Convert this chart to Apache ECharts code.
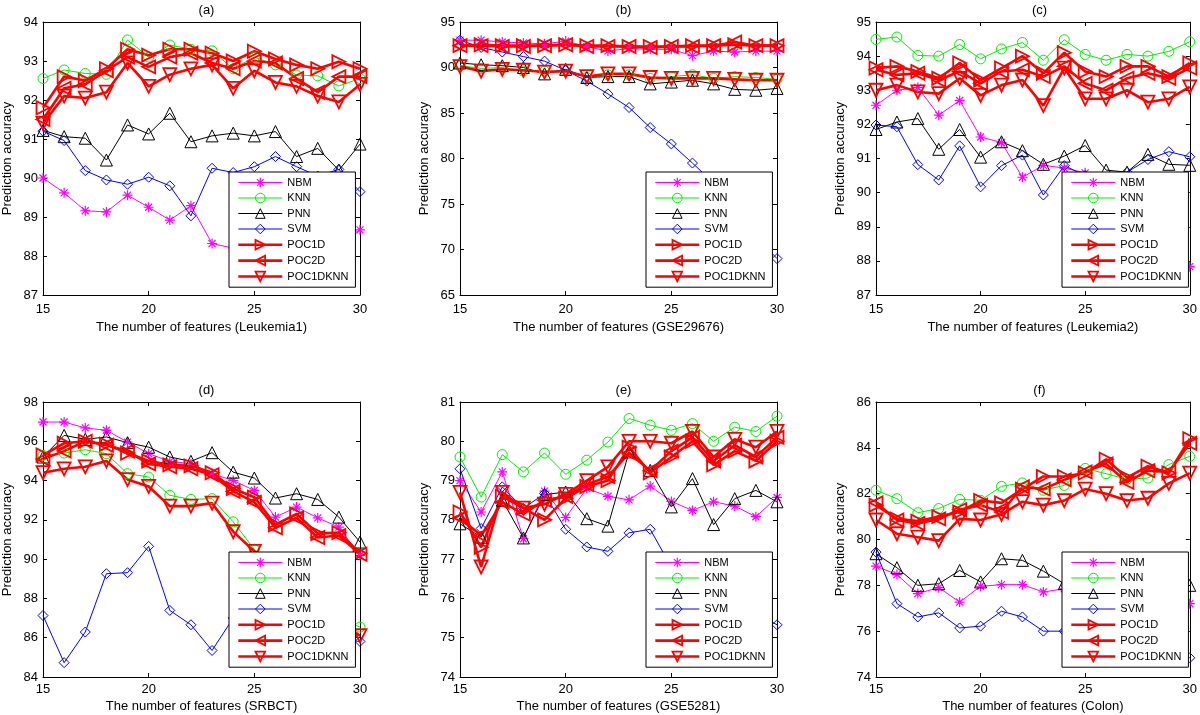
<!DOCTYPE html>
<html>
<head>
    <meta charset="utf-8">
    <title>Prediction accuracy</title>
    <script src="https://cdn.jsdelivr.net/npm/echarts@6/dist/echarts.min.js"></script>
</head>
<body style="margin:0">
    <div id="main" style="width: 1200px;height:715px;"></div>
    <script type="text/javascript">
        // number of features (x axis of every panel)
        var features = [15, 16, 17, 18, 19, 20, 21, 22, 23, 24, 25, 26, 27, 28, 29, 30];
        var methods = ['NBM', 'KNN', 'PNN', 'SVM', 'POC1D', 'POC2D', 'POC1DKNN'];

        // (a) Leukemia1
        var a_NBM = [90.0, 89.62, 89.16, 89.13, 89.56, 89.25, 88.92, 89.29, 88.32, 88.2, 88.05, 88.1, 88.25, 88.3, 88.35, 88.67];
        var a_KNN = [92.55, 92.77, 92.68, 92.66, 93.54, 93.1, 93.41, 93.3, 93.26, 92.8, 93.1, 92.9, 92.64, 92.62, 92.36, 92.55];
        var a_PNN = [91.22, 91.06, 91.02, 90.46, 91.36, 91.13, 91.66, 90.93, 91.08, 91.15, 91.08, 91.19, 90.55, 90.76, 90.2, 90.87];
        var a_SVM = [91.2, 90.96, 90.19, 89.95, 89.84, 90.02, 89.8, 89.03, 90.25, 90.14, 90.29, 90.55, 90.29, 90.05, 90.22, 89.65];
        var a_POC1D = [91.8, 92.6, 92.5, 92.8, 93.3, 93.15, 93.3, 93.3, 93.2, 93.0, 93.25, 93.05, 92.9, 92.8, 92.98, 92.8];
        var a_POC2D = [91.5, 92.3, 92.4, 92.75, 93.1, 92.85, 93.1, 93.2, 92.95, 92.8, 93.0, 92.95, 92.55, 92.2, 92.6, 92.6];
        var a_POC1DKNN = [91.4, 92.1, 92.05, 92.2, 92.95, 92.35, 92.65, 92.8, 92.9, 92.3, 92.75, 92.45, 92.35, 92.1, 91.95, 92.4];

        // (b) GSE29676
        var b_NBM = [93.0, 93.0, 92.8, 92.7, 92.6, 92.9, 92.3, 91.8, 92.1, 92.0, 92.0, 91.3, 91.8, 91.7, 91.8, 91.8];
        var b_KNN = [90.2, 89.9, 90.0, 89.6, 89.6, 89.6, 88.9, 89.2, 89.2, 88.8, 89.0, 89.2, 88.8, 89.0, 88.9, 88.7];
        var b_PNN = [90.5, 90.3, 90.2, 90.0, 89.3, 89.8, 88.9, 89.0, 89.0, 88.2, 88.4, 88.6, 88.2, 87.6, 87.5, 87.7];
        var b_SVM = [93.0, 92.2, 91.7, 91.2, 90.7, 89.7, 88.5, 87.1, 85.6, 83.4, 81.6, 79.5, 77.3, 75.0, 71.5, 69.0];
        var b_POC1D = [92.4, 92.5, 92.4, 92.4, 92.4, 92.5, 92.4, 92.4, 92.3, 92.3, 92.3, 92.4, 92.4, 92.5, 92.4, 92.4];
        var b_POC2D = [92.4, 92.4, 92.3, 92.3, 92.4, 92.5, 92.3, 92.3, 92.3, 92.2, 92.3, 92.3, 92.4, 92.8, 92.4, 92.4];
        var b_POC1DKNN = [90.1, 89.6, 89.8, 89.7, 89.5, 89.6, 89.0, 89.3, 89.3, 88.9, 88.8, 88.8, 88.8, 88.7, 88.6, 88.6];

        // (c) Leukemia2
        var c_NBM = [92.56, 93.0, 93.08, 92.27, 92.7, 91.63, 91.47, 90.45, 90.8, 90.72, 90.58, 90.2, 89.5, 88.8, 88.2, 87.83];
        var c_KNN = [94.49, 94.56, 94.02, 94.0, 94.34, 93.92, 94.21, 94.4, 93.88, 94.48, 94.05, 93.88, 94.05, 94.0, 94.14, 94.42];
        var c_PNN = [91.85, 92.07, 92.17, 91.27, 91.85, 91.04, 91.49, 91.23, 90.83, 91.07, 91.38, 90.66, 90.6, 91.12, 90.83, 90.8];
        var c_SVM = [91.98, 91.93, 90.82, 90.37, 91.37, 90.17, 90.79, 91.1, 89.93, 90.79, 90.5, 90.4, 90.6, 90.97, 91.2, 91.05];
        var c_POC1D = [93.65, 93.7, 93.55, 93.35, 93.8, 93.3, 93.65, 94.0, 93.5, 94.1, 93.55, 93.4, 93.7, 93.7, 93.4, 93.8];
        var c_POC2D = [93.6, 93.45, 93.5, 93.3, 93.55, 93.2, 93.55, 93.6, 93.4, 93.7, 93.2, 93.0, 93.35, 93.5, 93.35, 93.65];
        var c_POC1DKNN = [93.0, 93.15, 92.95, 92.9, 93.35, 92.85, 93.15, 93.3, 92.55, 93.65, 92.75, 92.75, 93.0, 92.65, 92.75, 93.1];

        // (d) SRBCT
        var d_NBM = [96.98, 96.98, 96.68, 96.56, 95.96, 95.37, 94.98, 94.86, 94.35, 94.0, 93.5, 92.14, 92.65, 92.1, 91.63, 90.19];
        var d_KNN = [95.28, 95.4, 95.57, 95.37, 94.35, 94.18, 93.25, 93.04, 93.08, 91.9, 90.5, 89.6, 88.7, 87.9, 87.0, 86.54];
        var d_PNN = [95.2, 96.3, 96.1, 96.22, 95.93, 95.7, 95.2, 94.98, 95.42, 94.43, 94.13, 93.11, 93.33, 93.04, 92.14, 90.87];
        var d_SVM = [87.13, 84.73, 86.29, 89.26, 89.31, 90.65, 87.39, 86.66, 85.35, 87.0, 86.5, 86.1, 86.3, 86.1, 85.9, 85.81];
        var d_POC1D = [95.3, 95.9, 96.0, 95.85, 95.4, 95.0, 94.8, 94.75, 94.4, 93.6, 93.15, 91.75, 92.3, 91.3, 91.35, 90.3];
        var d_POC2D = [95.1, 95.5, 96.0, 95.8, 95.5, 94.85, 94.7, 94.6, 94.3, 93.45, 92.9, 91.6, 92.1, 91.1, 91.2, 90.25];
        var d_POC1DKNN = [94.4, 94.6, 94.7, 95.0, 94.05, 93.7, 92.7, 92.7, 92.85, 91.4, 90.4, 89.5, 88.6, 87.8, 86.9, 86.1];

        // (e) GSE5281
        var e_NBM = [79.0, 78.2, 79.22, 77.52, 78.73, 78.06, 78.8, 78.6, 78.51, 78.86, 78.47, 78.24, 78.46, 78.35, 78.08, 78.57];
        var e_KNN = [79.6, 78.58, 79.66, 79.22, 79.7, 79.16, 79.52, 79.98, 80.58, 80.41, 80.28, 80.45, 80.0, 80.36, 80.25, 80.64];
        var e_PNN = [77.9, 77.56, 78.5, 77.54, 78.64, 78.71, 78.03, 77.84, 79.73, 79.26, 78.33, 79.05, 77.88, 78.54, 78.75, 78.46];
        var e_SVM = [79.3, 77.78, 78.84, 78.29, 78.67, 77.76, 77.31, 77.2, 77.67, 77.76, 76.8, 76.5, 76.2, 75.9, 75.6, 75.33];
        var e_POC1D = [78.2, 77.3, 78.6, 78.3, 78.0, 78.55, 78.85, 79.0, 79.85, 79.2, 79.6, 80.0, 79.4, 79.75, 79.5, 80.0];
        var e_POC2D = [78.05, 77.6, 78.45, 78.15, 78.5, 78.6, 78.9, 79.1, 79.7, 79.25, 79.75, 80.1, 79.5, 79.9, 79.6, 80.1];
        var e_POC1DKNN = [78.7, 76.8, 78.7, 78.3, 78.4, 78.65, 79.0, 79.35, 80.0, 80.0, 79.95, 80.25, 79.6, 80.05, 79.85, 80.25];

        // (f) Colon
        var f_NBM = [78.84, 78.47, 77.64, 77.9, 77.27, 77.96, 78.03, 78.03, 77.71, 77.85, 77.9, 78.0, 77.6, 77.3, 76.9, 77.2];
        var f_KNN = [82.15, 81.78, 81.17, 81.35, 81.75, 81.71, 82.32, 82.47, 82.15, 82.36, 83.1, 82.87, 82.63, 82.68, 83.27, 83.63];
        var f_PNN = [79.38, 78.77, 78.0, 78.07, 78.65, 78.15, 79.16, 79.09, 78.62, 78.07, 78.0, 78.2, 78.1, 78.0, 77.9, 78.0];
        var f_SVM = [79.45, 77.2, 76.62, 76.8, 76.14, 76.22, 76.87, 76.62, 76.0, 76.0, 75.9, 75.8, 75.6, 75.4, 75.1, 74.84];
        var f_POC1D = [81.5, 80.9, 80.8, 81.0, 81.2, 81.7, 81.6, 82.2, 82.75, 82.75, 82.9, 83.5, 82.7, 83.2, 82.9, 84.4];
        var f_POC2D = [81.6, 80.85, 80.7, 80.9, 81.3, 81.5, 81.2, 82.3, 82.2, 82.6, 82.95, 83.3, 82.5, 83.0, 82.95, 84.2];
        var f_POC1DKNN = [80.85, 80.25, 80.1, 79.95, 80.9, 80.85, 81.1, 81.65, 81.5, 81.7, 82.2, 82.0, 81.7, 81.8, 82.45, 82.9];

        var panels = [
            {tag: '(a)', set: 'Leukemia1', min: 87, max: 94, step: 1, data: [a_NBM, a_KNN, a_PNN, a_SVM, a_POC1D, a_POC2D, a_POC1DKNN]},
            {tag: '(b)', set: 'GSE29676', min: 65, max: 95, step: 5, data: [b_NBM, b_KNN, b_PNN, b_SVM, b_POC1D, b_POC2D, b_POC1DKNN]},
            {tag: '(c)', set: 'Leukemia2', min: 87, max: 95, step: 1, data: [c_NBM, c_KNN, c_PNN, c_SVM, c_POC1D, c_POC2D, c_POC1DKNN]},
            {tag: '(d)', set: 'SRBCT', min: 84, max: 98, step: 2, data: [d_NBM, d_KNN, d_PNN, d_SVM, d_POC1D, d_POC2D, d_POC1DKNN]},
            {tag: '(e)', set: 'GSE5281', min: 74, max: 81, step: 1, data: [e_NBM, e_KNN, e_PNN, e_SVM, e_POC1D, e_POC2D, e_POC1DKNN]},
            {tag: '(f)', set: 'Colon', min: 74, max: 86, step: 2, data: [f_NBM, f_KNN, f_PNN, f_SVM, f_POC1D, f_POC2D, f_POC1DKNN]}
        ];

        // layout of the 2x3 panels
        var lefts = [43, 460, 876];
        var tops = [22, 402];
        var heights = [273, 275];
        var plotW = 317;

        // marker / line look of each method (matlab style)
        var star = 'path://M0,5L10,5M5,0L5,10M1.5,1.5L8.5,8.5M8.5,1.5L1.5,8.5';
        var colors = ['#ff00ff', '#00ee00', '#000000', '#0000ff', '#ff0000', '#ff0000', '#ff0000'];
        var symbols = [star, 'circle', 'triangle', 'diamond', 'triangle', 'triangle', 'triangle'];
        var rotates = [0, 0, 0, 0, -90, 90, 180];
        var sizes = [10, 10, 12, 10, 13, 13, 13];
        var lineW = [1, 1, 1, 1, 2.6, 2.6, 2.6];
        var borderW = [1.2, 1, 1, 1, 1.8, 1.8, 1.8];

        var font = 'Liberation Sans, Arial, Helvetica, sans-serif';
        var myChart = echarts.init(document.getElementById('main'));

        var option = {
            animation: false,
            backgroundColor: '#fff',
            textStyle: {fontFamily: font},
            title: [], grid: [], xAxis: [], yAxis: [], legend: [], series: []
        };

        panels.forEach(function (p, i) {
            var row = Math.floor(i / 3), col = i % 3;
            var left = lefts[col], top = tops[row], h = heights[row];

            option.grid.push({left: left, top: top, width: plotW, height: h, show: false});
            option.title.push({
                text: p.tag, left: left + plotW / 2, top: top - 23, textAlign: 'center',
                textStyle: {fontSize: 13, fontWeight: 'normal', color: '#000', fontFamily: font}
            });

            var tick = {show: true, inside: true, length: 4, lineStyle: {color: '#000'}};
            var line = {show: true, onZero: false, lineStyle: {color: '#000', width: 1}};
            // bottom / left axes with labels, top / right copies for the box
            option.xAxis.push({
                gridIndex: i, type: 'value', min: 15, max: 30, interval: 5,
                name: 'The number of features (' + p.set + ')', nameLocation: 'middle',
                nameGap: row === 0 ? 26 : 23,
                nameTextStyle: {fontSize: 13, color: '#000', fontFamily: font},
                axisLine: line, axisTick: tick, splitLine: {show: false},
                axisLabel: {fontSize: 13, color: '#000', margin: row === 0 ? 8 : 6, fontFamily: font}
            });
            option.xAxis.push({
                gridIndex: i, type: 'value', position: 'top', min: 15, max: 30, interval: 5,
                axisLine: line, axisTick: tick, splitLine: {show: false}, axisLabel: {show: false}
            });
            option.yAxis.push({
                gridIndex: i, type: 'value', min: p.min, max: p.max, interval: p.step,
                name: 'Prediction accuracy', nameLocation: 'middle', nameGap: 29, nameRotate: 90,
                nameTextStyle: {fontSize: 13, color: '#000', fontFamily: font},
                axisLine: line, axisTick: tick, splitLine: {show: false},
                axisLabel: {fontSize: 13, color: '#000', margin: 5, fontFamily: font}
            });
            option.yAxis.push({
                gridIndex: i, type: 'value', position: 'right', min: p.min, max: p.max, interval: p.step,
                axisLine: line, axisTick: tick, splitLine: {show: false}, axisLabel: {show: false}
            });

            option.legend.push({
                orient: 'vertical', left: left + 186, top: top + 150,
                backgroundColor: '#fff', borderColor: '#000', borderWidth: 1, borderRadius: 0,
                padding: [5, 7, 5, 8], itemGap: 4.5, itemWidth: 44, itemHeight: 12,
                selectedMode: false, z: 10,
                textStyle: {fontSize: 11, color: '#000', fontFamily: font},
                data: methods.map(function (m, k) {
                    return {
                        name: m,
                        itemStyle: {color: 'rgba(0,0,0,0)', borderColor: colors[k], borderWidth: borderW[k]},
                        lineStyle: {color: colors[k], width: lineW[k]}
                    };
                })
            });

            methods.forEach(function (m, k) {
                option.series.push({
                    name: m, type: 'line', xAxisIndex: i * 2, yAxisIndex: i * 2,
                    data: features.map(function (x, j) { return [x, p.data[k][j]]; }),
                    symbol: symbols[k], symbolSize: sizes[k], symbolRotate: rotates[k],
                    showAllSymbol: true, silent: true,
                    lineStyle: {color: colors[k], width: lineW[k]},
                    itemStyle: {color: 'rgba(0,0,0,0)', borderColor: colors[k], borderWidth: borderW[k]},
                    emphasis: {disabled: true}
                });
            });
        });

        myChart.setOption(option);
    </script>
</body>
</html>
